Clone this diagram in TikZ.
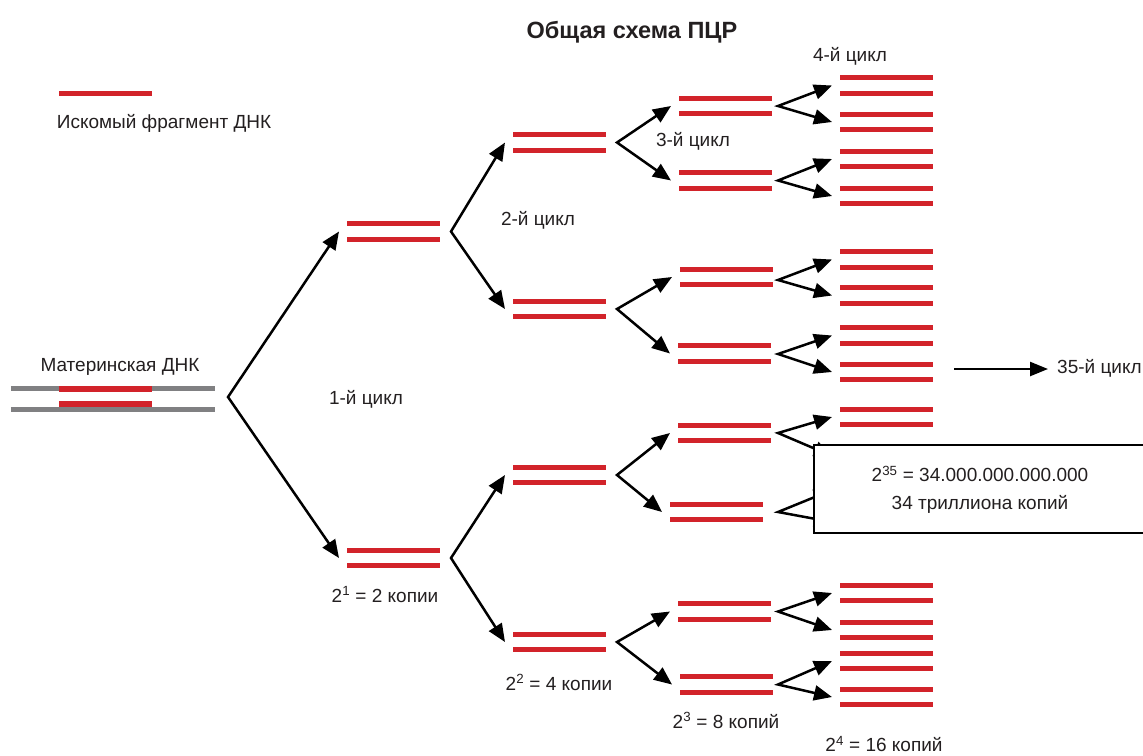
\documentclass[tikz,border=0pt]{standalone}
\usepackage{fontspec}
\setmainfont{Liberation Sans}
\usetikzlibrary{arrows.meta}
\definecolor{dnared}{RGB}{210,35,42}
\definecolor{dnagray}{RGB}{128,128,130}
\definecolor{txt}{RGB}{35,31,32}
\tikzset{
  dna/.style={draw=dnared, line width=5.2pt},
  strand/.style={draw=dnagray, line width=5pt},
  pairbox/.style={minimum width=93pt, minimum height=15.5pt, inner sep=0pt, outer sep=0pt},
  forkarrow/.style={draw=black, line width=2.5pt, line join=miter,
    {Triangle[length=18pt,width=15pt]}-{Triangle[length=18pt,width=15pt]}},
  arr/.style={draw=black, line width=2.4pt, -{Triangle[length=18pt,width=14pt]}},
  lbl/.style={text=txt, font=\fontsize{19}{22}\selectfont, inner sep=0pt, anchor=base},
  titlestyle/.style={text=txt, font=\bfseries\fontsize{23.5}{26}\selectfont, inner sep=0pt, anchor=base},
  resultbox/.style={draw=black, fill=white, line width=2pt, anchor=north west,
    minimum width=360pt, minimum height=88pt, inner sep=0pt},
}
\newcommand\dnapair[2]{%
  \node[pairbox] (#1) at (#2) {};
  \draw[dna] (#1.north west) -- (#1.north east);
  \draw[dna] (#1.south west) -- (#1.south east);}
\newcommand\forkto[3]{%
  \draw[forkarrow] ([xshift=-8pt]#2.west) -- (#1) -- ([xshift=-8pt]#3.west);}
\begin{document}
\begin{tikzpicture}[x=1pt,y=-1pt]
\useasboundingbox (0,0) rectangle (1143,755);
\clip (0,0) rectangle (1143,755);

% title
\node[titlestyle] (title) at (632,38.5) {Общая схема ПЦР};

% legend
\coordinate (legA) at (59,93.3);
\coordinate (legB) at (152,93.3);
\draw[dna] (legA) -- (legB);
\node[lbl] (legtxt) at (164,128.5) {Искомый фрагмент ДНК};

% maternal DNA
\node[lbl] (mattxt) at (120,371.5) {Материнская ДНК};
\node[minimum width=204pt, minimum height=20pt, inner sep=0pt] (mat) at (113,399) {};
\draw[strand] (mat.north west) -- (mat.north east);
\draw[strand] (mat.south west) -- (mat.south east);
\coordinate (mr1) at (59,389);
\coordinate (mr2) at (152,389);
\coordinate (mr3) at (59,404);
\coordinate (mr4) at (152,404);
\draw[dna] (mr1) -- (mr2);
\draw[dna] (mr3) -- (mr4);

% level 1
\dnapair{a1}{393.5,231.5}
\dnapair{a2}{393.5,558}
% level 2
\dnapair{b1}{559.5,142.5}
\dnapair{b2}{559.5,309}
\dnapair{b3}{559.5,475}
\dnapair{b4}{559.5,642}
% level 3
\dnapair{c1}{725.5,106}
\dnapair{c2}{725.5,180.5}
\dnapair{c3}{726.5,277}
\dnapair{c4}{724.5,353.5}
\dnapair{c5}{724.5,433}
\dnapair{c6}{716.5,512}
\dnapair{c7}{724.5,611.5}
\dnapair{c8}{726.5,684.5}
% level 4
\dnapair{d1}{886.5,85.5}
\dnapair{d2}{886.5,122}
\dnapair{d3}{886.5,159}
\dnapair{d4}{886.5,196}
\dnapair{d5}{886.5,259.5}
\dnapair{d6}{886.5,295.5}
\dnapair{d7}{886.5,335.5}
\dnapair{d8}{886.5,372}
\dnapair{d9}{886.5,417}
\dnapair{d10}{886.5,456}
\dnapair{d11}{886.5,490}
\dnapair{d12}{886.5,522}
\dnapair{d13}{886.5,593}
\dnapair{d14}{886.5,630}
\dnapair{d15}{886.5,661}
\dnapair{d16}{886.5,697}

% fork vertices
\coordinate (v0) at (228,397);
\coordinate (v1) at (451,231.5);
\coordinate (v2) at (451,558);
\coordinate (v3) at (617,142.5);
\coordinate (v4) at (617,309);
\coordinate (v5) at (617,475);
\coordinate (v6) at (617,642);
\coordinate (w1) at (778,106);
\coordinate (w2) at (778,180.5);
\coordinate (w3) at (778,280);
\coordinate (w4) at (778,354);
\coordinate (w5) at (778,433);
\coordinate (w6) at (778,512);
\coordinate (w7) at (778,611.5);
\coordinate (w8) at (778,684.5);

\forkto{v0}{a1}{a2}
\forkto{v1}{b1}{b2}
\forkto{v2}{b3}{b4}
\forkto{v3}{c1}{c2}
\forkto{v4}{c3}{c4}
\forkto{v5}{c5}{c6}
\forkto{v6}{c7}{c8}
\forkto{w1}{d1}{d2}
\forkto{w2}{d3}{d4}
\forkto{w3}{d5}{d6}
\forkto{w4}{d7}{d8}
\forkto{w5}{d9}{d10}
\forkto{w6}{d11}{d12}
\forkto{w7}{d13}{d14}
\forkto{w8}{d15}{d16}

% cycle labels
\node[lbl] (cyc1) at (366,404) {1-й цикл};
\node[lbl] (cyc2) at (538,225.5) {2-й цикл};
\node[lbl] (cyc3) at (693,146.5) {3-й цикл};
\node[lbl] (cyc4) at (850,61.5) {4-й цикл};
\node[lbl] (n1) at (385,602) {2\textsuperscript{1} = 2 копии};
\node[lbl] (n2) at (559,690) {2\textsuperscript{2} = 4 копии};
\node[lbl] (n3) at (726,728) {2\textsuperscript{3} = 8 копий};
\node[lbl] (n4) at (884,751.5) {2\textsuperscript{4} = 16 копий};

% 35th cycle
\coordinate (s35) at (954,369);
\node[lbl, anchor=base west] (c35) at (1057,373) {35-й цикл};
\draw[arr] (s35) -- ([xshift=-9pt]c35.west |- s35);

% result box
\node[resultbox] (box) at (813,444) {};
\node[text=txt, font=\fontsize{19}{28}\selectfont, inner sep=0pt, align=center] (boxtxt) at (980,490)
  {2\textsuperscript{35} = 34.000.000.000.000\\34 триллиона копий};
\end{tikzpicture}
\end{document}
